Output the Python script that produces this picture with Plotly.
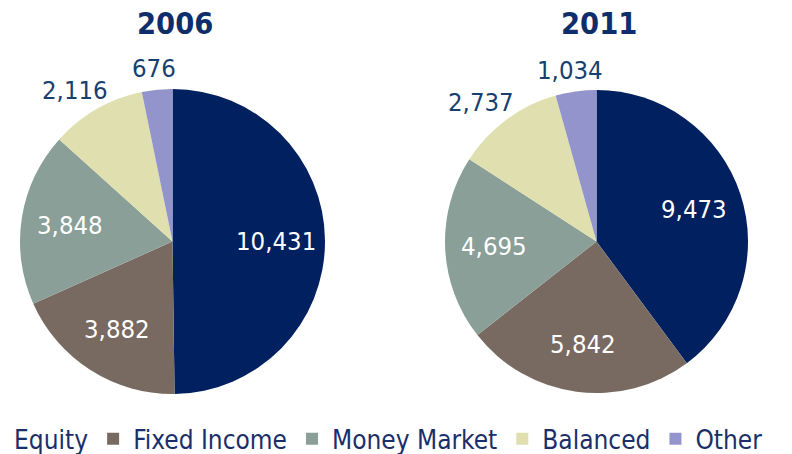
import math
import plotly.graph_objects as go

# ---- data ----
categories = ["Equity", "Fixed Income", "Money Market", "Balanced", "Other"]
years = ["2006", "2011"]
values_2006 = [10431, 3882, 3848, 2116, 676]
values_2011 = [9473, 5842, 4695, 2737, 1034]
label_inside = [True, True, True, False, False]

# ---- style ----
slice_colors = ["#00205F", "#786A61", "#8A9F98", "#E0DFB0", "#9494CC"]
FONT = "DejaVu Sans Condensed, DejaVu Sans, sans-serif"
W, H = 792, 454
MB = 50
PH = H - MB
pie_geom = [dict(cx=172.5, cy=241.5, r=152.5), dict(cx=596.5, cy=241.5, r=151.5)]
LABEL_SIZE = 25.5


def px2x(px):
    return px / W


def py2y(py):
    return 1 - py / PH


fig = go.Figure()
annotations = []
for i, (year, vals) in enumerate(zip(years, [values_2006, values_2011])):
    g = pie_geom[i]
    cx, cy, r = g["cx"], g["cy"], g["r"]
    fig.add_trace(go.Pie(
        labels=categories,
        values=vals,
        sort=False,
        direction="clockwise",
        rotation=0,
        textinfo="none",
        marker=dict(colors=slice_colors, line=dict(width=0)),
        domain=dict(x=[px2x(cx - r), px2x(cx + r)], y=[py2y(cy + r), py2y(cy - r)]),
        name=year,
        showlegend=True,
    ))
    # title
    annotations.append(dict(
        text="<b>%s</b>" % year, x=px2x(cx + 2), y=py2y(23.5), xref="paper", yref="paper",
        showarrow=False, xanchor="center", yanchor="middle",
        font=dict(family=FONT, size=30.5, color="#0E2E6B"),
    ))
    total = float(sum(vals))
    cum = 0.0
    for v, inside in zip(vals, label_inside):
        a0 = cum / total * 2 * math.pi
        cum += v
        a1 = cum / total * 2 * math.pi
        mid = (a0 + a1) / 2
        ux, uy = math.sin(mid), -math.cos(mid)
        txt = f"{v:,}"
        if inside:
            lx = cx + 0.68 * r * ux
            ly = cy + 0.68 * r * uy
            col = "white"
        else:
            wEst = sum(0.286 if ch == "," else 0.572 for ch in txt) * LABEL_SIZE
            hw, hh = wEst / 2, 12
            lx = cx + (r + 10) * ux + hw * ux
            ly = cy + (r + 10) * uy + hh * uy
            col = "#17406F"
        annotations.append(dict(
            text=txt, x=px2x(lx), y=py2y(ly), xref="paper", yref="paper",
            showarrow=False, xanchor="center", yanchor="middle",
            font=dict(family=FONT, size=LABEL_SIZE, color=col),
        ))

fig.update_layout(
    width=W, height=H,
    margin=dict(l=0, r=0, t=0, b=MB, autoexpand=False),
    paper_bgcolor="white", plot_bgcolor="white",
    annotations=annotations,
    legend=dict(
        orientation="h", x=-26 / W, xanchor="left", y=-0.028, yanchor="top",
        font=dict(family=FONT, size=26, color="#1A2F6A"),
        itemclick=False, itemdoubleclick=False,
    ),
    font=dict(family=FONT),
)

fig.write_html(
    "out.html",
    config={"displayModeBar": False},
    post_script="document.body.style.margin='0';document.body.style.overflow='hidden';",
)
